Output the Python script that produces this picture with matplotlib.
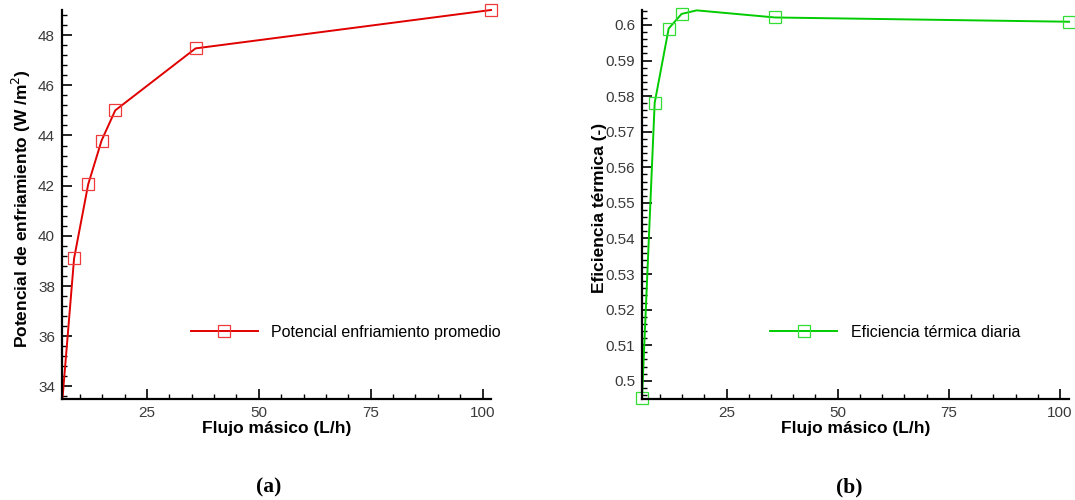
import matplotlib
matplotlib.use('Agg')
import matplotlib.pyplot as plt
from matplotlib.ticker import MultipleLocator, FormatStrFormatter

plt.rcParams['font.family'] = ['Liberation Sans', 'DejaVu Sans']

# (a) potencial de enfriamiento vs flujo (first point sits on the axis corner, no marker shown)
flujo_a = [6.1, 8.7, 11.85, 14.85, 17.9, 35.85, 101.9]
potencial = [33.5, 39.1, 42.05, 43.8, 45.0, 47.47, 49.0]
marcas_a = [1, 2, 3, 4, 5, 6]

# (b) eficiencia termica vs flujo (18.3 is the peak of the curve, no marker there)
flujo_b = [6.0, 8.85, 12.0, 14.9, 18.3, 35.9, 102.0]
eficiencia = [0.4952, 0.5781, 0.599, 0.6031, 0.6041, 0.6021, 0.6009]
marcas_b = [0, 1, 2, 3, 5, 6]

fig = plt.figure(figsize=(10.75, 5.0), dpi=100)
ax1 = fig.add_axes([62 / 1075, 101 / 500, 429 / 1075, 389 / 500])
ax2 = fig.add_axes([642 / 1075, 101 / 500, 427 / 1075, 389 / 500])


def estilo(ax):
    for s in ['top', 'right']:
        ax.spines[s].set_visible(False)
    for s in ['left', 'bottom']:
        ax.spines[s].set_linewidth(1.6)
        ax.spines[s].set_color('black')
    ax.tick_params(which='major', direction='in', length=7, width=1.2,
                   labelsize=11, labelcolor='#3a3a3a', pad=5)
    ax.tick_params(which='minor', direction='in', length=3.5, width=1.0)
    ax.xaxis.set_major_locator(MultipleLocator(25))
    ax.xaxis.set_minor_locator(MultipleLocator(5))
    ax.set_xlabel('Flujo másico (L/h)', fontsize=12.5, fontweight='bold')
    ax.xaxis.set_label_coords(0.5, -0.075)
    ax.xaxis.label.set_va('center')


ax1.plot(flujo_a, potencial, color='#e00000', lw=1.4, marker='s', ms=8,
         mfc='none', mec='#ee3a3a', mew=0.9, clip_on=False, markevery=marcas_a,
         label='Potencial enfriamiento promedio')
ax1.set_xlim(6, 101.9)
ax1.set_ylim(33.5, 49)
estilo(ax1)
ax1.yaxis.set_major_locator(MultipleLocator(2))
ax1.yaxis.set_minor_locator(MultipleLocator(0.4))
ax1.set_ylabel('Potencial de enfriamiento (W /m$^2$)', fontsize=12.5, fontweight='bold',
               va='center')
ax1.yaxis.set_label_coords(-0.094, 0.49)

ax2.plot(flujo_b, eficiencia, color='#00cc00', lw=1.4, marker='s', ms=8,
         mfc='none', mec='#33dd33', mew=0.9, clip_on=False, markevery=marcas_b,
         label='Eficiencia térmica diaria')
ax2.set_xlim(6, 102)
ax2.set_ylim(0.4949, 0.6042)
estilo(ax2)
ax2.yaxis.set_major_locator(MultipleLocator(0.01))
ax2.yaxis.set_minor_locator(MultipleLocator(0.002))
ax2.yaxis.set_major_formatter(FormatStrFormatter('%g'))
ax2.set_ylabel('Eficiencia térmica (-)', fontsize=12.5, fontweight='bold', va='center')
ax2.yaxis.set_label_coords(-0.1, 0.49)

for ax in [ax1, ax2]:
    ax.legend(loc='center left', bbox_to_anchor=(0.30, 0.172), frameon=False,
              fontsize=11.5, handlelength=4.2, handletextpad=0.85,
              borderpad=0, borderaxespad=0)

fig.text(269 / 1075, 0.025, '(a)', ha='center', va='center', fontsize=15.5,
         fontweight='bold', family='Liberation Serif')
fig.text(849 / 1075, 0.025, '(b)', ha='center', va='center', fontsize=15.5,
         fontweight='bold', family='Liberation Serif')

fig.savefig('out.png', dpi=100)
